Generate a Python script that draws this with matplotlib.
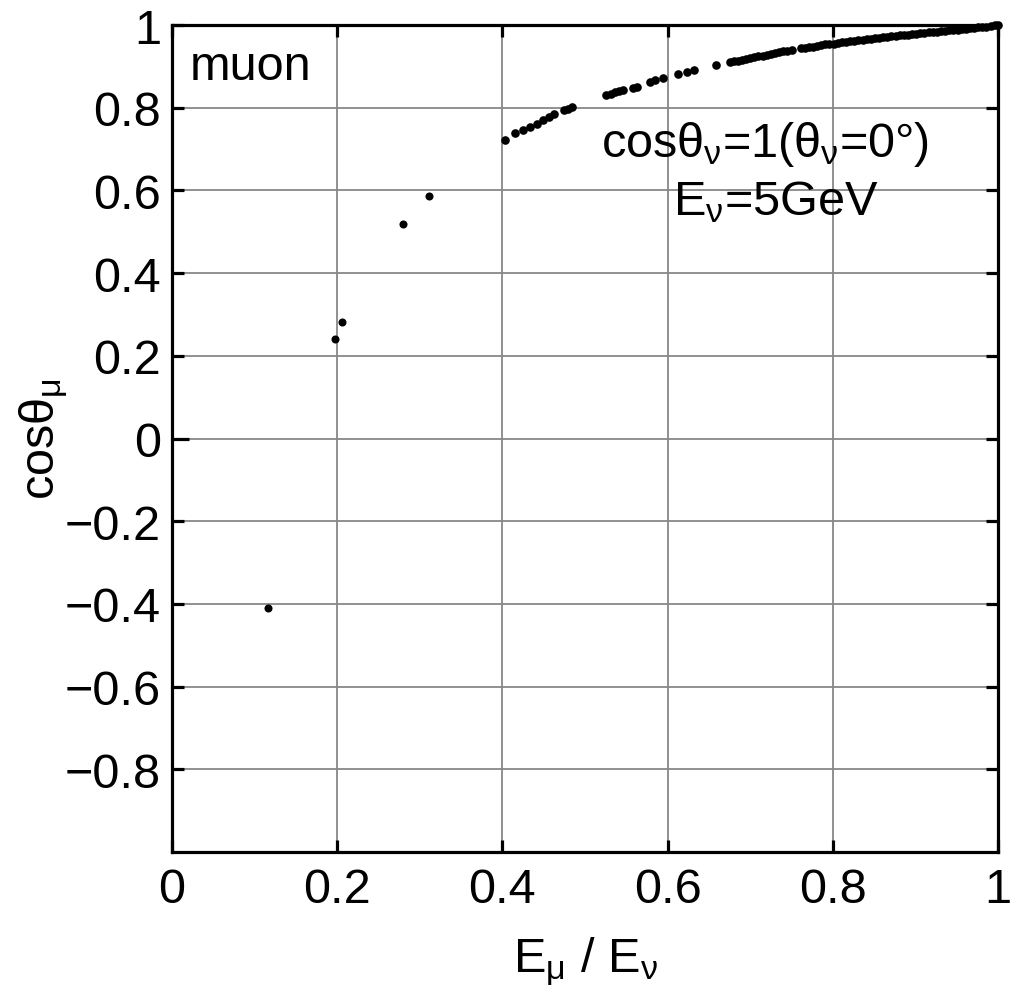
import matplotlib
matplotlib.use("Agg")
import matplotlib.pyplot as plt

plt.rcParams['font.family'] = ['Liberation Sans', 'DejaVu Sans']
plt.rcParams['mathtext.fontset'] = 'custom'
plt.rcParams['mathtext.rm'] = 'Liberation Sans'
plt.rcParams['mathtext.it'] = 'Liberation Sans'
plt.rcParams['mathtext.bf'] = 'Liberation Sans:bold'

# isolated events
iso_x = [0.1166, 0.197, 0.206, 0.280, 0.3115]
iso_y = [-0.411, 0.240, 0.282, 0.519, 0.587]

# main band of events
curve_x = [0.403, 0.415, 0.425, 0.433, 0.4415, 0.4495, 0.456, 0.462, 0.474, 0.479, 0.484,
           0.526, 0.531, 0.536, 0.541, 0.546, 0.5585, 0.563, 0.5787, 0.585, 0.594,
           0.613, 0.623, 0.632, 0.659,
           0.675, 0.680, 0.685, 0.690, 0.695, 0.700, 0.705, 0.710, 0.715, 0.720,
           0.725, 0.730, 0.735, 0.740, 0.745, 0.750,
           0.761, 0.766, 0.771, 0.776, 0.781, 0.786, 0.791, 0.796, 0.801, 0.806,
           0.811, 0.816, 0.821, 0.826, 0.831, 0.836, 0.841, 0.846, 0.851, 0.856,
           0.861, 0.866, 0.871, 0.876, 0.881, 0.886, 0.891, 0.896, 0.901, 0.906,
           0.911, 0.916, 0.921, 0.926, 0.931, 0.936, 0.941, 0.946, 0.951, 0.956,
           0.961, 0.966, 0.971, 0.976, 0.981, 0.986, 0.991, 0.996, 1.000]
curve_y = [0.723, 0.739, 0.746, 0.754, 0.760, 0.770, 0.778, 0.784, 0.794, 0.798, 0.802,
           0.830, 0.834, 0.837, 0.840, 0.842, 0.848, 0.851, 0.863, 0.866, 0.872,
           0.881, 0.887, 0.892, 0.903,
           0.910, 0.912, 0.914, 0.916, 0.918, 0.920, 0.922, 0.924, 0.926, 0.928,
           0.930, 0.932, 0.934, 0.936, 0.938, 0.940,
           0.944, 0.945, 0.947, 0.948, 0.950, 0.951, 0.953, 0.954, 0.955, 0.957,
           0.958, 0.959, 0.961, 0.962, 0.963, 0.964, 0.966, 0.967, 0.968, 0.969,
           0.970, 0.971, 0.973, 0.974, 0.975, 0.976, 0.977, 0.978, 0.979, 0.980,
           0.981, 0.982, 0.983, 0.984, 0.985, 0.986, 0.987, 0.988, 0.989, 0.990,
           0.991, 0.992, 0.993, 0.994, 0.995, 0.996, 0.997, 0.999, 1.000]

x_ticks = [0, 0.2, 0.4, 0.6, 0.8, 1.0]
x_labels = ['0', '0.2', '0.4', '0.6', '0.8', '1']
y_ticks = [-0.8, -0.6, -0.4, -0.2, 0, 0.2, 0.4, 0.6, 0.8, 1.0]
y_labels = ['\u22120.8', '\u22120.6', '\u22120.4', '\u22120.2', '0', '0.2', '0.4', '0.6', '0.8', '1']

FS = 35

fig = plt.figure(figsize=(10.21, 10.04), dpi=100)
ax = fig.add_axes([172/1021, 1 - 853/1004, (998-172)/1021, (853-26)/1004])

ax.plot(curve_x, curve_y, 'o', color='black', ms=6.2, mec='none', clip_on=False, zorder=5)
ax.plot(iso_x, iso_y, 'o', color='black', ms=5.8, mec='none', clip_on=False, zorder=5)

ax.set_xlim(0, 1)
ax.set_ylim(-1, 1)
ax.set_xticks(x_ticks)
ax.set_xticklabels(x_labels)
ax.set_yticks(y_ticks)
ax.set_yticklabels(y_labels)
ax.grid(True, color='#888888', linewidth=1.3)
ax.set_axisbelow(True)

for s in ax.spines.values():
    s.set_linewidth(2.3)
ax.tick_params(direction='in', length=8.5, width=2.3, labelsize=FS,
               top=True, right=True, pad=8)
ax.tick_params(axis='x', pad=11)
# longer tick at y = 0
t0 = ax.yaxis.get_major_ticks()[4]
t0.tick1line.set_markersize(12)

ax.set_xlabel(r'E$_\mu$ / E$_\nu$', fontsize=FS, labelpad=16)
ax.set_ylabel(r'cos$\theta_\mu$', fontsize=FS, labelpad=-4)

ax.text(0.021, 0.977, 'muon', transform=ax.transAxes, fontsize=FS,
        ha='left', va='top')
ax.text(0.718, 0.857, r'cos$\theta_\nu$=1($\theta_\nu$=0°)', transform=ax.transAxes,
        fontsize=FS, ha='center', va='center')
ax.text(0.731, 0.787, r'E$_\nu$=5GeV', transform=ax.transAxes,
        fontsize=FS, ha='center', va='center')

fig.savefig('out.png', dpi=100)
